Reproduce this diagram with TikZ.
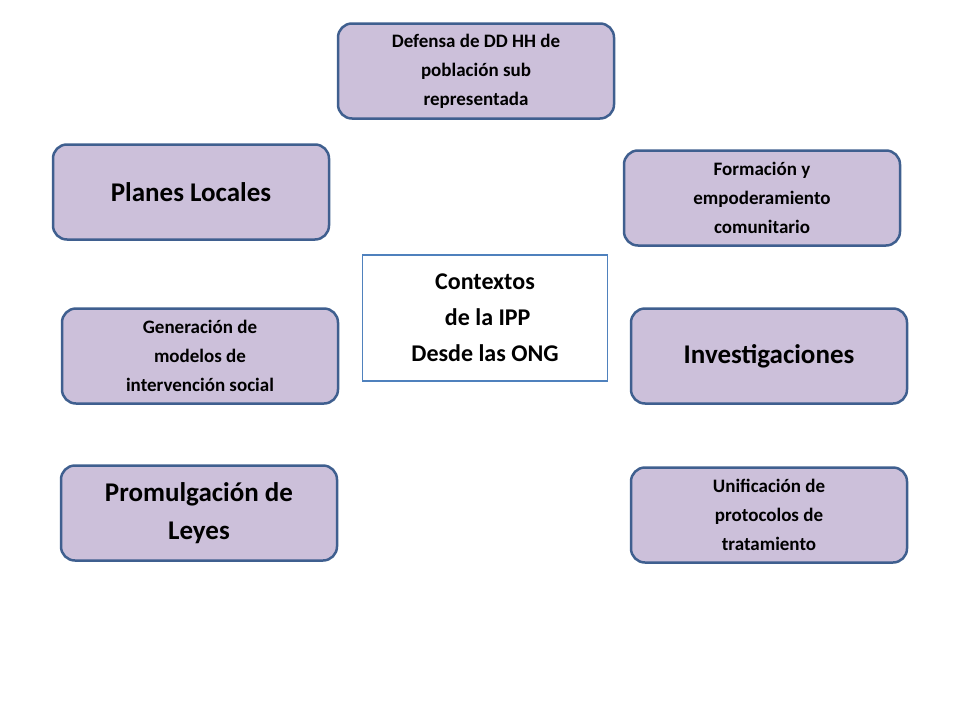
\documentclass[tikz,border=0pt]{standalone}
\usepackage{fontspec}
\setmainfont{Carlito}
\definecolor{boxfill}{HTML}{CCC0DA}
\definecolor{boxdraw}{HTML}{3F5F8F}
\definecolor{ctrdraw}{HTML}{4F81BD}
\begin{document}
\begin{tikzpicture}[x=1pt,y=-1pt,
  box/.style={draw=boxdraw,line width=2.5pt,fill=boxfill,rounded corners=14pt,
    minimum width=276pt,minimum height=95pt,align=center,font=\bfseries,text=black,inner sep=2pt},
  small/.style={font=\fontsize{19}{29}\selectfont\bfseries},
  big/.style={font=\fontsize{27}{38}\selectfont\bfseries}]
\useasboundingbox (0,0) rectangle (960,720);
\node[box,small] (def) at (476,71) {Defensa de DD HH de\\población sub\\representada};
\node[box,big] (pl) at (191,192) {Planes Locales};
\node[box,small] (form) at (762,198) {Formación  y\\empoderamiento\\comunitario};
\node[draw=ctrdraw,line width=1.5pt,fill=white,minimum width=245pt,minimum height=126pt,align=center,
  font=\fontsize{24}{36}\selectfont\bfseries] (ctx) at (485,318) {Contextos\\ \ de la IPP\\Desde las ONG};
\node[box,small] (gen) at (200,356) {Generación de\\modelos de\\intervención social};
\node[box,big] (inv) at (769,356) {Investigaciones};
\node[box,big] (prom) at (199,513) {Promulgación de\\Leyes};
\node[box,small] (uni) at (769,515) {Unificación de\\protocolos de\\tratamiento};
\end{tikzpicture}
\end{document}
